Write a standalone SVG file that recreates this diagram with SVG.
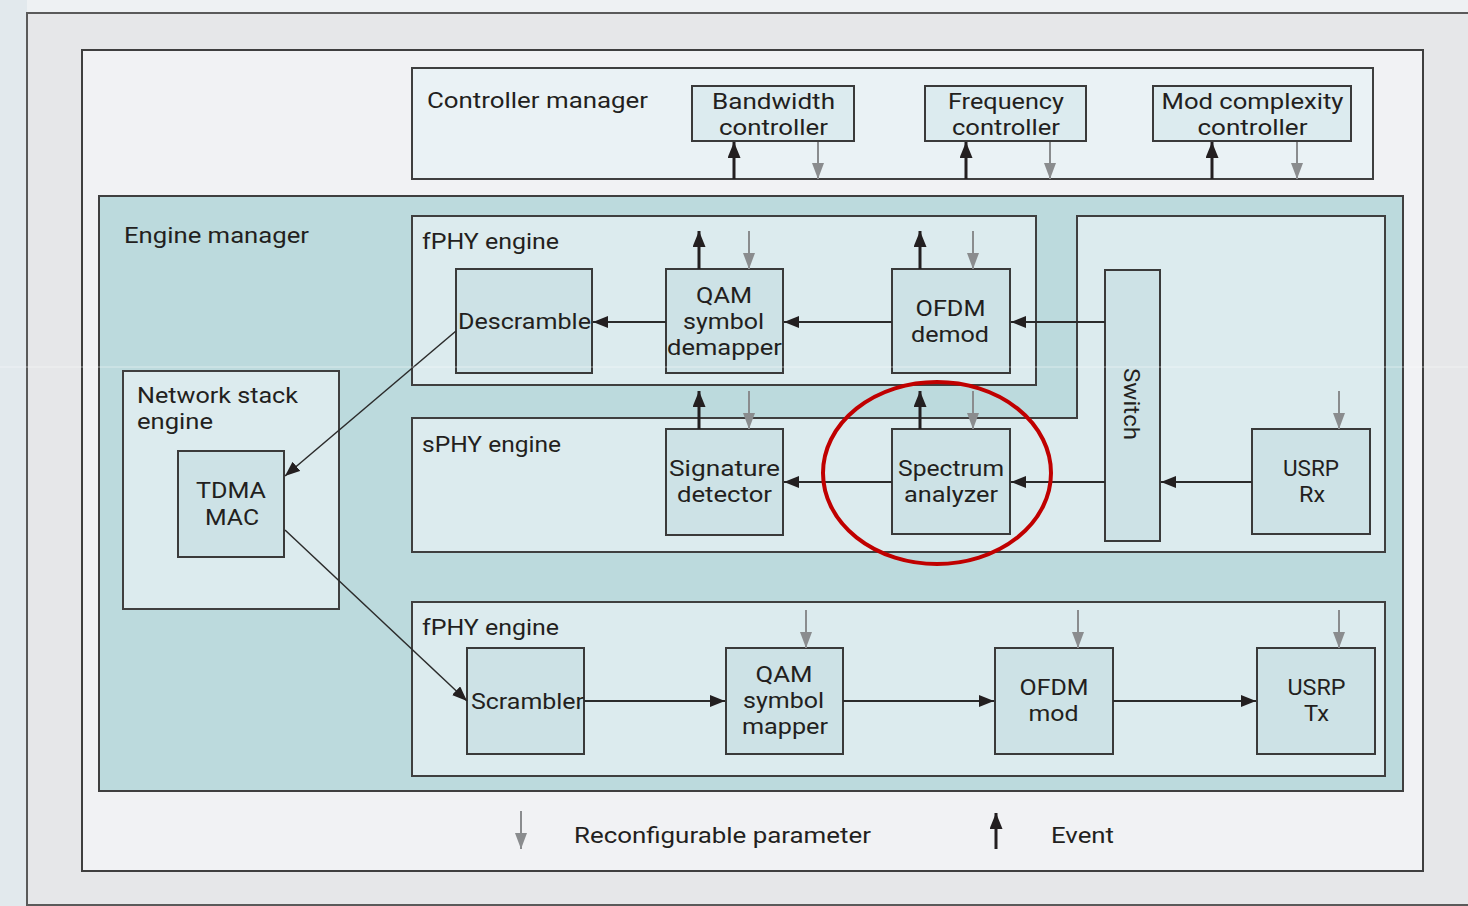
<svg xmlns="http://www.w3.org/2000/svg" width="1468" height="906" viewBox="0 0 1468 906">
  <defs>
    <marker id="ah" markerUnits="userSpaceOnUse" markerWidth="16" markerHeight="13" refX="15" refY="6" orient="auto">
      <path d="M0,0 L15,6 L0,12 Z" fill="#231f20"/>
    </marker>
    <marker id="ev" markerUnits="userSpaceOnUse" markerWidth="17" markerHeight="14" refX="16" refY="6.5" orient="auto">
      <path d="M0,0 L16,6.5 L0,13 Z" fill="#231f20"/>
    </marker>
    <marker id="pa" markerUnits="userSpaceOnUse" markerWidth="17" markerHeight="13" refX="16" refY="6" orient="auto">
      <path d="M0,0 L16,6 L0,12 Z" fill="#8a8c8e"/>
    </marker>
    <style>
      text { font-family: Roboto, "Open Sans", "Liberation Sans", sans-serif; font-size: 22px; fill: #231f20; }
      .c { text-anchor: middle; }
      .frame { stroke: #3f3f3f; stroke-width: 2; }
      .box { fill: #cde2e6; stroke: #3a3a3a; stroke-width: 2; }
      .ctl { fill: #dcebef; stroke: #3a3a3a; stroke-width: 2; }
      .eng { fill: #dcebee; stroke: #3f3f3f; stroke-width: 2; }
      .flow { stroke: #2b2b2b; stroke-width: 2; fill: none; marker-end: url(#ah); }
      .diag { stroke: #2b2b2b; stroke-width: 1.5; fill: none; marker-end: url(#ah); }
      .evt { stroke: #231f20; stroke-width: 3; fill: none; marker-end: url(#ev); }
      .par { stroke: #8a8c8e; stroke-width: 2; fill: none; marker-end: url(#pa); }
    </style>
  </defs>

  <!-- page backdrop -->
  <rect x="0" y="0" width="1468" height="906" fill="#eef1f3"/>
  <rect x="0" y="0" width="27" height="906" fill="#e2e9ed"/>
  <rect x="27" y="13" width="1460" height="892" fill="#e6e7e9" stroke="#5a5a5a" stroke-width="2"/>

  <!-- figure frame -->
  <rect x="82" y="50" width="1341" height="821" fill="#f1f2f4" class="frame"/>

  <!-- controller manager -->
  <g id="controller-manager">
    <rect x="412" y="68" width="961" height="111" fill="#eaf2f5" class="frame"/>
    <text x="427" y="108" textLength="221" lengthAdjust="spacingAndGlyphs">Controller manager</text>
  </g>
  <g id="bandwidth-controller">
    <rect class="ctl" x="692" y="86" width="162" height="55"/>
    <text class="c" x="773.5" y="109" textLength="123" lengthAdjust="spacingAndGlyphs">Bandwidth</text>
    <text class="c" x="773.5" y="135" textLength="109" lengthAdjust="spacingAndGlyphs">controller</text>
  </g>
  <g id="frequency-controller">
    <rect class="ctl" x="925" y="86" width="161" height="55"/>
    <text class="c" x="1006" y="109" textLength="116" lengthAdjust="spacingAndGlyphs">Frequency</text>
    <text class="c" x="1006" y="135" textLength="108" lengthAdjust="spacingAndGlyphs">controller</text>
  </g>
  <g id="mod-complexity-controller">
    <rect class="ctl" x="1153" y="86" width="198" height="55"/>
    <text class="c" x="1252.5" y="109" textLength="182" lengthAdjust="spacingAndGlyphs">Mod complexity</text>
    <text class="c" x="1252.5" y="135" textLength="110" lengthAdjust="spacingAndGlyphs">controller</text>
  </g>

  <!-- engine manager -->
  <g id="engine-manager">
    <rect x="99" y="196" width="1304" height="595" fill="#bcdadd" class="frame"/>
    <text x="124" y="243" textLength="185" lengthAdjust="spacingAndGlyphs">Engine manager</text>
  </g>

  <g id="fphy-rx-engine">
    <rect class="eng" x="412" y="216" width="624" height="169"/>
    <text x="422" y="249" textLength="137" lengthAdjust="spacingAndGlyphs">fPHY engine</text>
  </g>

  <g id="sphy-engine">
    <path class="eng" d="M412,418 H1077 V216 H1385 V552 H412 Z"/>
    <text x="422" y="452" textLength="139" lengthAdjust="spacingAndGlyphs">sPHY engine</text>
  </g>

  <g id="network-stack-engine">
    <rect class="eng" x="123" y="371" width="216" height="238"/>
    <text x="137" y="403" textLength="161" lengthAdjust="spacingAndGlyphs">Network stack</text>
    <text x="137" y="429" textLength="76" lengthAdjust="spacingAndGlyphs">engine</text>
  </g>

  <g id="fphy-tx-engine">
    <rect class="eng" x="412" y="602" width="973" height="174"/>
    <text x="422" y="635" textLength="137" lengthAdjust="spacingAndGlyphs">fPHY engine</text>
  </g>

  <!-- processing blocks -->
  <g id="descramble">
    <rect class="box" x="456" y="269" width="136" height="104"/>
    <text class="c" x="524.5" y="329" textLength="133" lengthAdjust="spacingAndGlyphs">Descramble</text>
  </g>
  <g id="qam-demapper">
    <rect class="box" x="666" y="269" width="117" height="104"/>
    <text class="c" x="724" y="303" textLength="56" lengthAdjust="spacingAndGlyphs">QAM</text>
    <text class="c" x="723.5" y="329" textLength="81" lengthAdjust="spacingAndGlyphs">symbol</text>
    <text class="c" x="724.5" y="355" textLength="115" lengthAdjust="spacingAndGlyphs">demapper</text>
  </g>
  <g id="ofdm-demod">
    <rect class="box" x="892" y="269" width="118" height="104"/>
    <text class="c" x="950.5" y="316" textLength="70" lengthAdjust="spacingAndGlyphs">OFDM</text>
    <text class="c" x="950" y="342" textLength="78" lengthAdjust="spacingAndGlyphs">demod</text>
  </g>
  <g id="switch">
    <rect class="box" x="1105" y="270" width="55" height="271"/>
    <text class="c" transform="translate(1124,404) rotate(90)" x="0" y="0" textLength="72" lengthAdjust="spacingAndGlyphs">Switch</text>
  </g>
  <g id="signature-detector">
    <rect class="box" x="666" y="429" width="117" height="106"/>
    <text class="c" x="724.5" y="476" textLength="111" lengthAdjust="spacingAndGlyphs">Signature</text>
    <text class="c" x="724.5" y="502" textLength="95" lengthAdjust="spacingAndGlyphs">detector</text>
  </g>
  <g id="spectrum-analyzer">
    <rect class="box" x="892" y="429" width="118" height="105"/>
    <text class="c" x="951" y="476" textLength="106" lengthAdjust="spacingAndGlyphs">Spectrum</text>
    <text class="c" x="951" y="502" textLength="94" lengthAdjust="spacingAndGlyphs">analyzer</text>
  </g>
  <g id="usrp-rx">
    <rect class="box" x="1252" y="429" width="118" height="105"/>
    <text class="c" x="1311" y="476" textLength="56" lengthAdjust="spacingAndGlyphs">USRP</text>
    <text class="c" x="1312" y="502" textLength="26" lengthAdjust="spacingAndGlyphs">Rx</text>
  </g>
  <g id="tdma-mac">
    <rect class="box" x="178" y="451" width="106" height="106"/>
    <text class="c" x="231" y="498" textLength="70" lengthAdjust="spacingAndGlyphs">TDMA</text>
    <text class="c" x="232" y="525" textLength="54" lengthAdjust="spacingAndGlyphs">MAC</text>
  </g>
  <g id="scrambler">
    <rect class="box" x="467" y="648" width="117" height="106"/>
    <text class="c" x="527.5" y="709" textLength="113" lengthAdjust="spacingAndGlyphs">Scrambler</text>
  </g>
  <g id="qam-mapper">
    <rect class="box" x="726" y="648" width="117" height="106"/>
    <text class="c" x="784" y="682" textLength="57" lengthAdjust="spacingAndGlyphs">QAM</text>
    <text class="c" x="783.5" y="708" textLength="81" lengthAdjust="spacingAndGlyphs">symbol</text>
    <text class="c" x="785" y="734" textLength="86" lengthAdjust="spacingAndGlyphs">mapper</text>
  </g>
  <g id="ofdm-mod">
    <rect class="box" x="995" y="648" width="118" height="106"/>
    <text class="c" x="1054" y="695" textLength="69" lengthAdjust="spacingAndGlyphs">OFDM</text>
    <text class="c" x="1053.5" y="721" textLength="50" lengthAdjust="spacingAndGlyphs">mod</text>
  </g>
  <g id="usrp-tx">
    <rect class="box" x="1257" y="648" width="118" height="106"/>
    <text class="c" x="1316.5" y="695" textLength="58" lengthAdjust="spacingAndGlyphs">USRP</text>
    <text class="c" x="1316.5" y="721" textLength="25" lengthAdjust="spacingAndGlyphs">Tx</text>
  </g>

  <!-- connectors -->
  <g id="connectors">
    <!-- events up, parameters down: controllers -->
    <line class="evt" x1="734" y1="179" x2="734" y2="142"/>
    <line class="par" x1="818" y1="142" x2="818" y2="179"/>
    <line class="evt" x1="966" y1="179" x2="966" y2="142"/>
    <line class="par" x1="1050" y1="142" x2="1050" y2="179"/>
    <line class="evt" x1="1212" y1="179" x2="1212" y2="142"/>
    <line class="par" x1="1297" y1="142" x2="1297" y2="179"/>

    <!-- receive chain -->
    <line class="evt" x1="699" y1="269" x2="699" y2="231"/>
    <line class="par" x1="749" y1="231" x2="749" y2="269"/>
    <line class="evt" x1="920" y1="269" x2="920" y2="231"/>
    <line class="par" x1="973" y1="231" x2="973" y2="269"/>
    <line class="evt" x1="699" y1="429" x2="699" y2="391"/>
    <line class="par" x1="749" y1="391" x2="749" y2="429"/>
    <line class="evt" x1="920" y1="429" x2="920" y2="391"/>
    <line class="par" x1="973" y1="391" x2="973" y2="429"/>
    <line class="par" x1="1339" y1="391" x2="1339" y2="429"/>

    <line class="flow" x1="1105" y1="322" x2="1011" y2="322"/>
    <line class="flow" x1="892" y1="322" x2="784" y2="322"/>
    <line class="flow" x1="666" y1="322" x2="593" y2="322"/>
    <line class="flow" x1="1252" y1="482" x2="1161" y2="482"/>
    <line class="flow" x1="1105" y1="482" x2="1011" y2="482"/>
    <line class="flow" x1="892" y1="482" x2="784" y2="482"/>

    <line class="diag" x1="456" y1="331" x2="285" y2="476"/>
    <line class="diag" x1="285" y1="530" x2="467" y2="701"/>

    <!-- transmit chain -->
    <line class="par" x1="806" y1="610" x2="806" y2="648"/>
    <line class="par" x1="1078" y1="610" x2="1078" y2="648"/>
    <line class="par" x1="1339" y1="610" x2="1339" y2="648"/>
    <line class="flow" x1="584" y1="701" x2="725" y2="701"/>
    <line class="flow" x1="843" y1="701" x2="994" y2="701"/>
    <line class="flow" x1="1113" y1="701" x2="1256" y2="701"/>

    <!-- legend -->
    <line class="par" x1="521" y1="811" x2="521" y2="849"/>
    <line class="evt" x1="996" y1="849" x2="996" y2="813"/>
  </g>

  <g id="legend">
    <text x="574" y="843" textLength="297" lengthAdjust="spacingAndGlyphs">Reconfigurable parameter</text>
    <text x="1051" y="843" textLength="63" lengthAdjust="spacingAndGlyphs">Event</text>
  </g>

  <!-- highlight around the spectrum analyzer -->
  <ellipse id="highlight" cx="937" cy="473" rx="114" ry="91" fill="none" stroke="#c00000" stroke-width="4"/>

  <!-- faint scan seam -->
  <line x1="0" y1="367" x2="1468" y2="367" stroke="#ffffff" stroke-width="1" opacity="0.45"/>
</svg>
